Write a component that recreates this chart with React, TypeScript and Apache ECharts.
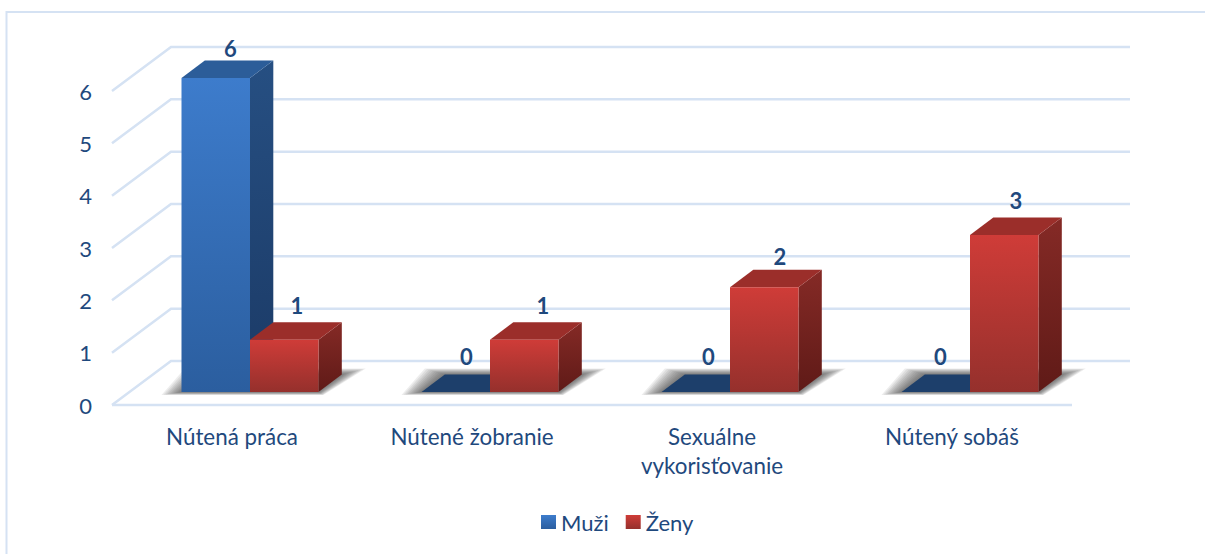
import React, { useEffect, useRef } from "react";
import * as echarts from "echarts";

const categories = ["Nútená práca", "Nútené žobranie", "Sexuálne\nvykorisťovanie", "Nútený sobáš"];
const muzi = [6, 0, 0, 0];
const zeny = [1, 1, 2, 3];
const yTicks = [0, 1, 2, 3, 4, 5, 6];

const FONT = "Lato";
const TEXT = "#1f497d";
const LINE = "#d5e2f3";

const WALL_DX = 59;
const WALL_DY = -44;
const PLANE_DX = 18;
const PLANE_DY = -13;
const BAR_DX = 23.3;
const BAR_DY = -17.5;
const BAR_WIDTH = 68.5;
const SHADOW_LAYERS = 10;
const muziLabelNudge = [[2, 3], [-2, -3], [0, -3], [-8, -3]];
const zenyLabelNudge = [[0, -2], [6, -2], [3, 2], [-1, -2]];

const vGrad = (a: string, b: string) =>
  new echarts.graphic.LinearGradient(0, 0, 0, 1, [
    { offset: 0, color: a },
    { offset: 1, color: b },
  ]);

const palettes = {
  blue: { front: ["#3d7ccc", "#2b5e9f"], side: ["#264f82", "#1b3a66"], top: "#2c5d99", flat: "#1d3f6b" },
  red: { front: ["#cf3c38", "#95302c"], side: ["#852a26", "#5f1a17"], top: "#9b2e2a", flat: "#9b2e2a" },
};

const barRender = (pal: typeof palettes.blue, sign: number, nudge: number[][]) => (params: any, api: any) => {
  const i = api.value(0);
  const v = api.value(1);
  const base = api.coord([i, 0]);
  const top = api.coord([i, v]);
  const x0 = base[0] + PLANE_DX + (sign < 0 ? -BAR_WIDTH : 0);
  const x1 = x0 + BAR_WIDTH;
  const yb = base[1] + PLANE_DY;
  const yt = top[1] + PLANE_DY;
  const children: any[] = [];
  if (v > 0) {
    children.push({
      type: "polygon",
      shape: { points: [[x1, yt], [x1 + BAR_DX, yt + BAR_DY], [x1 + BAR_DX, yb + BAR_DY], [x1, yb]] },
      style: { fill: vGrad(pal.side[0], pal.side[1]) },
    });
    children.push({
      type: "polygon",
      shape: { points: [[x0, yt], [x0 + BAR_DX, yt + BAR_DY], [x1 + BAR_DX, yt + BAR_DY], [x1, yt]] },
      style: { fill: pal.top },
    });
    children.push({
      type: "rect",
      shape: { x: x0, y: yt, width: BAR_WIDTH, height: yb - yt },
      style: { fill: vGrad(pal.front[0], pal.front[1]) },
    });
  } else {
    children.push({
      type: "polygon",
      shape: { points: [[x0, yb], [x0 + BAR_DX, yb + BAR_DY], [x1 + BAR_DX, yb + BAR_DY], [x1, yb]] },
      style: { fill: pal.flat },
    });
  }
  children.push({
    type: "text",
    style: {
      x: (x0 + x1) / 2 + BAR_DX / 2 + 1 + nudge[i][0],
      y: yt + BAR_DY - 15 + nudge[i][1],
      text: String(v),
      fill: TEXT,
      font: `bold 22px ${FONT}`,
      align: "center",
      verticalAlign: "middle",
    },
  });
  return { type: "group", children };
};

const shadowRender = (params: any, api: any) => {
  const i = api.value(0);
  const base = api.coord([i, 0]);
  const cx = base[0] + PLANE_DX;
  const yb = base[1] + PLANE_DY;
  const children: any[] = [];
  for (let k = SHADOW_LAYERS; k >= 1; k--) {
    const l = 2 * k;
    const r = 2.4 * k;
    const t = 0.6 * k;
    const b = 0.3 * k;
    children.push({
      type: "polygon",
      shape: {
        points: [
          [cx - BAR_WIDTH - l, yb + b],
          [cx + BAR_WIDTH + r * 0.2, yb + b],
          [cx + BAR_WIDTH + BAR_DX + r, yb + BAR_DY - t],
          [cx - BAR_WIDTH + BAR_DX - l, yb + BAR_DY - t],
        ],
      },
      style: { fill: "rgba(60,60,60,0.09)" },
    });
  }
  return { type: "group", children };
};

const wallRender = (params: any, api: any) => {
  const v = api.value(1);
  const n = categories.length - 1;
  const left = api.coord([0, v])[0] - api.size([1, 0])[0] / 2;
  const right = api.coord([n, v])[0] + api.size([1, 0])[0] / 2;
  const y = api.coord([0, v])[1];
  const children: any[] = [
    {
      type: "polyline",
      shape: { points: [[left, y], [left + WALL_DX, y + WALL_DY], [right + WALL_DX - 1, y + WALL_DY]] },
      style: { fill: "none", stroke: LINE, lineWidth: 2.5 },
    },
  ];
  if (v === 0) {
    children.push({
      type: "line",
      shape: { x1: left, y1: y, x2: right, y2: y },
      style: { stroke: LINE, lineWidth: 2.5 },
    });
  }
  return { type: "group", children };
};

export default function App() {
  const ref = useRef<HTMLDivElement>(null);
  useEffect(() => {
    const chart = echarts.init(ref.current!, null, { renderer: "svg" });
    chart.setOption({
      animation: false,
      backgroundColor: "#ffffff",
      textStyle: { fontFamily: FONT },
      grid: { left: 112, right: 133, top: 91, bottom: 149 },
      graphic: [
        {
          type: "rect",
          silent: true,
          z: -1,
          shape: { x: 6.5, y: 12, width: 1300, height: 1300 },
          style: { fill: "none", stroke: LINE, lineWidth: 2 },
        },
      ],
      legend: {
        data: ["Muži", "Ženy"],
        left: 541,
        top: 511,
        padding: 0,
        icon: "rect",
        itemWidth: 15,
        itemHeight: 14,
        itemGap: 17,
        textStyle: { color: TEXT, fontFamily: FONT, fontSize: 22 },
      },
      xAxis: {
        type: "category",
        data: categories,
        axisLine: { show: false },
        axisTick: { show: false },
        axisLabel: { color: TEXT, fontFamily: FONT, fontSize: 22.4, lineHeight: 29, margin: 17, interval: 0 },
      },
      yAxis: {
        type: "value",
        min: 0,
        max: 6,
        interval: 1,
        axisLine: { show: false },
        axisTick: { show: false },
        splitLine: { show: false },
        axisLabel: { color: TEXT, fontFamily: FONT, fontSize: 22, margin: 20 },
      },
      series: [
        {
          type: "custom",
          name: "wall",
          renderItem: wallRender,
          data: yTicks.map((v) => [0, v]),
          encode: { x: 0, y: 1 },
          silent: true,
        },
        {
          type: "custom",
          name: "shadow",
          renderItem: shadowRender,
          data: categories.map((_, i) => [i, 0]),
          encode: { x: 0, y: 1 },
          silent: true,
        },
        {
          type: "custom",
          name: "Muži",
          renderItem: barRender(palettes.blue, -1, muziLabelNudge),
          data: muzi.map((v, i) => [i, v]),
          encode: { x: 0, y: 1 },
          itemStyle: { color: vGrad(palettes.blue.front[0], palettes.blue.front[1]) },
        },
        {
          type: "custom",
          name: "Ženy",
          renderItem: barRender(palettes.red, 1, zenyLabelNudge),
          data: zeny.map((v, i) => [i, v]),
          encode: { x: 0, y: 1 },
          itemStyle: { color: vGrad(palettes.red.front[0], palettes.red.front[1]) },
        },
      ],
    });
    return () => chart.dispose();
  }, []);
  return <div ref={ref} style={{ position: "absolute", left: 0, top: 0, width: 1205, height: 554 }} />;
}
